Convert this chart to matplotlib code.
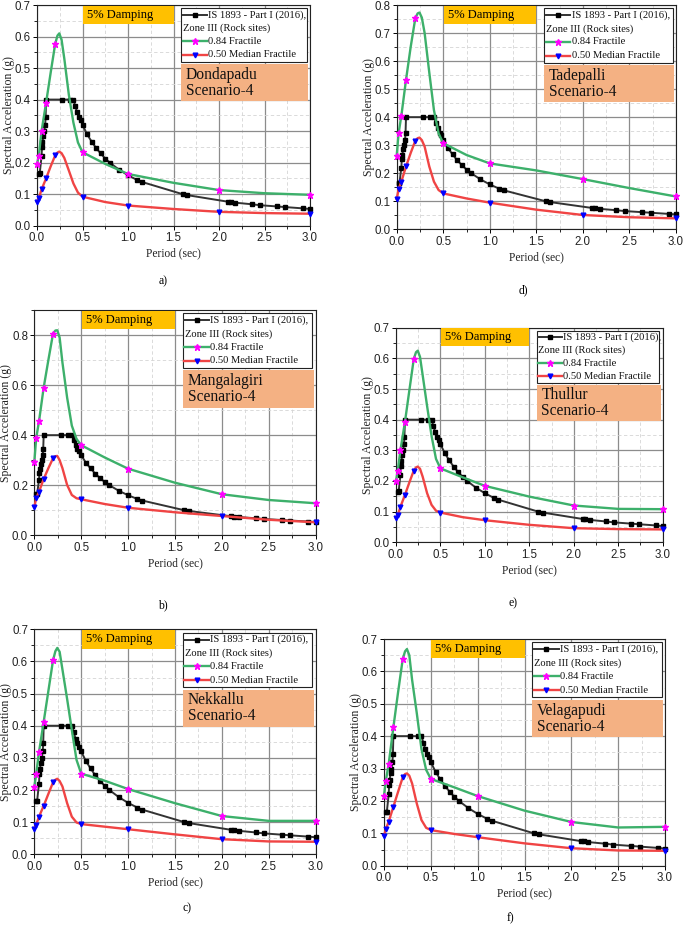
import matplotlib
matplotlib.use("Agg")
import matplotlib.pyplot as plt
from matplotlib.patches import Rectangle
from matplotlib.ticker import MultipleLocator, FormatStrFormatter
from matplotlib.lines import Line2D

# ---------------- data ----------------
# IS 1893 - Part I (2016), Zone III (Rock sites) -- same in every panel
is_period = [0.02, 0.03, 0.05, 0.055, 0.06, 0.07, 0.08, 0.09, 0.095, 0.1, 0.28, 0.36, 0.4,
             0.42, 0.44, 0.46, 0.48, 0.5, 0.55, 0.6, 0.65, 0.7, 0.75, 0.8, 0.9, 1.0, 1.1,
             1.15, 1.6, 1.65, 2.1, 2.13, 2.18, 2.36, 2.45, 2.64, 2.73, 2.92, 3.0]
is_sa = [0.165, 0.166, 0.22, 0.25, 0.265, 0.285, 0.30, 0.32, 0.345, 0.40, 0.40, 0.40, 0.40,
         0.38, 0.36, 0.345, 0.335, 0.32, 0.29, 0.267, 0.246, 0.229, 0.213, 0.20, 0.178, 0.16,
         0.145, 0.139, 0.10, 0.097, 0.076, 0.075, 0.073, 0.068, 0.065, 0.061, 0.059, 0.055, 0.053]

# Fractile spectra; markers at the computed periods
period = [0, 0.02, 0.05, 0.1, 0.15, 0.2, 0.225, 0.245, 0.27, 0.3, 0.35, 0.4, 0.45, 0.5,
          0.75, 1.0, 1.5, 2.0, 2.5, 3.0]
marker_idx = [0, 1, 2, 3, 5, 13, 15, 17, 19]

sites = ["Dondapadu", "Tadepalli", "Mangalagiri", "Thullur", "Nekkallu", "Velagapudi"]
captions = ["a)", "d)", "b)", "e)", "c)", "f)"]

frac84_dondapadu = [0.195, 0.222, 0.30, 0.39, 0.485, 0.577, 0.603, 0.61, 0.59, 0.53, 0.415, 0.327,
                    0.264, 0.233, 0.196, 0.164, 0.136, 0.113, 0.103, 0.098]
frac50_dondapadu = [0.076, 0.087, 0.115, 0.150, 0.188, 0.223, 0.232, 0.235, 0.230, 0.215, 0.175,
                    0.134, 0.105, 0.092, 0.075, 0.064, 0.053, 0.044, 0.040, 0.038]

frac84_tadepalli = [0.263, 0.342, 0.405, 0.533, 0.65, 0.753, 0.77, 0.773, 0.755, 0.70, 0.559, 0.425,
                    0.342, 0.307, 0.265, 0.235, 0.21, 0.179, 0.147, 0.117]
frac50_tadepalli = [0.108, 0.143, 0.170, 0.224, 0.272, 0.316, 0.325, 0.327, 0.318, 0.295, 0.224,
                    0.170, 0.140, 0.128, 0.11, 0.095, 0.07, 0.051, 0.043, 0.039]

frac84_mangalagiri = [0.292, 0.387, 0.455, 0.59, 0.70, 0.806, 0.818, 0.819, 0.79, 0.69, 0.55, 0.438,
                      0.385, 0.36, 0.311, 0.266, 0.21, 0.164, 0.141, 0.128]
frac50_mangalagiri = [0.113, 0.148, 0.174, 0.225, 0.268, 0.308, 0.316, 0.317, 0.300, 0.268, 0.201,
                      0.161, 0.148, 0.144, 0.125, 0.110, 0.092, 0.077, 0.062, 0.052]

frac84_thullur = [0.20, 0.234, 0.301, 0.391, 0.495, 0.598, 0.62, 0.625, 0.605, 0.545, 0.444, 0.347,
                  0.272, 0.241, 0.212, 0.184, 0.149, 0.12, 0.109, 0.108]
frac50_thullur = [0.078, 0.089, 0.116, 0.154, 0.195, 0.234, 0.244, 0.247, 0.24, 0.214, 0.16, 0.122,
                  0.103, 0.097, 0.082, 0.072, 0.057, 0.046, 0.043, 0.042]

frac84_nekkallu = [0.209, 0.249, 0.318, 0.412, 0.508, 0.604, 0.632, 0.642, 0.63, 0.575, 0.483, 0.387,
                   0.294, 0.251, 0.229, 0.203, 0.159, 0.119, 0.104, 0.104]
frac50_nekkallu = [0.079, 0.092, 0.117, 0.151, 0.188, 0.224, 0.232, 0.235, 0.228, 0.211, 0.159,
                   0.117, 0.099, 0.094, 0.086, 0.078, 0.062, 0.047, 0.040, 0.039]

frac84_velagapudi = [0.216, 0.263, 0.314, 0.427, 0.535, 0.638, 0.662, 0.669, 0.65, 0.574, 0.471, 0.36,
                     0.296, 0.268, 0.242, 0.215, 0.17, 0.135, 0.118, 0.120]
frac50_velagapudi = [0.093, 0.113, 0.136, 0.182, 0.228, 0.273, 0.283, 0.285, 0.278, 0.254, 0.192,
                     0.141, 0.117, 0.110, 0.098, 0.088, 0.069, 0.054, 0.047, 0.046]

frac84 = [frac84_dondapadu, frac84_tadepalli, frac84_mangalagiri,
          frac84_thullur, frac84_nekkallu, frac84_velagapudi]
frac50 = [frac50_dondapadu, frac50_tadepalli, frac50_mangalagiri,
          frac50_thullur, frac50_nekkallu, frac50_velagapudi]

y_max = [0.7, 0.8, 0.9, 0.7, 0.7, 0.7]
y_major = [0.1, 0.1, 0.2, 0.1, 0.1, 0.1]

# ---------------- layout (pixels) ----------------
W, H = 685, 925
# left, right, top, bottom of each plot area
boxes = [(37, 310, 5, 225.7),
         (396.7, 676, 5, 229.3),
         (34.3, 315.7, 310, 535.3),
         (396, 662.7, 327.7, 542.3),
         (34.3, 315.7, 629.3, 854.3),
         (384, 665, 639, 865.7)]
caption_pos = [(163, 281), (523, 290), (163, 605), (513, 603), (187, 908), (510, 918)]

SERIF = "Liberation Serif"
SANS = "Liberation Sans"
GREEN = "#3DB06B"
RED = "#F04444"
BLACK = "#333333"

fig = plt.figure(figsize=(W / 100, H / 100), dpi=100)

for i in range(6):
    l, r, t, b = boxes[i]
    w_px, h_px = r - l, b - t
    ax = fig.add_axes([l / W, 1 - b / H, w_px / W, h_px / H])
    ax.set_xlim(0, 3.0)
    ax.set_ylim(0, y_max[i])
    ax.xaxis.set_major_locator(MultipleLocator(0.5))
    ax.xaxis.set_minor_locator(MultipleLocator(0.25))
    ax.yaxis.set_major_locator(MultipleLocator(y_major[i]))
    ax.yaxis.set_minor_locator(MultipleLocator(y_major[i] / 2))
    ax.xaxis.set_major_formatter(FormatStrFormatter("%.1f"))
    ax.yaxis.set_major_formatter(FormatStrFormatter("%.1f"))
    ax.grid(which="major", color="#8c8c8c", lw=0.9, ls="-", zorder=0)
    ax.grid(which="minor", color="#d4d4d4", lw=0.6, ls=(0, (4, 3)), zorder=0)
    ax.set_axisbelow(True)
    ax.tick_params(which="major", direction="out", length=3, width=0.7, labelsize=8.3,
                   pad=1.5, labelcolor="#222222")
    ax.tick_params(which="minor", direction="out", length=2, width=0.6)
    for lab in ax.get_xticklabels() + ax.get_yticklabels():
        lab.set_fontfamily(SANS)
    for sp in ax.spines.values():
        sp.set_color("#222222")
        sp.set_linewidth(0.8)

    ax.set_xlabel("Period (sec)", fontfamily=SERIF, fontsize=8.3, color="#222222")
    ax.xaxis.set_label_coords(0.5, -27.5 / h_px)
    ax.xaxis.label.set_va("center")
    ax.set_ylabel("Spectral Acceleration (g)", fontfamily=SERIF, fontsize=8.5, color="#222222")
    ax.yaxis.set_label_coords(-22 / w_px, 0.5)

    # curves
    ax.plot(is_period, is_sa, color=BLACK, lw=1.4, marker="s", ms=2.8, mfc="black",
            mec="black", zorder=4, clip_on=False)
    ax.plot(period, frac84[i], color=GREEN, lw=1.7, marker="*", ms=4.8, mfc="#FF00FF",
            mec="#FF00FF", markevery=marker_idx, zorder=5, clip_on=False)
    ax.plot(period, frac50[i], color=RED, lw=1.7, marker="v", ms=3.4, mfc="#0000FF",
            mec="#0000FF", markevery=marker_idx, zorder=5, clip_on=False)

    # 5% Damping box
    ax.add_patch(Rectangle((0.168, 0.914), 0.332, 0.083, transform=ax.transAxes,
                           facecolor="#FFC000", edgecolor="none", zorder=6, clip_on=False))
    ax.text(0.183, 0.955, "5% Damping", transform=ax.transAxes, fontfamily=SERIF,
            fontsize=9, va="center", ha="left", zorder=7)

    # legend box (drawn manually to reproduce the wrapped first entry)
    lx0, lx1, ly0, ly1 = 0.528, 0.988, 0.742, 0.985
    ax.add_patch(Rectangle((lx0, ly0), lx1 - lx0, ly1 - ly0, transform=ax.transAxes,
                           facecolor="white", edgecolor="#222222", lw=0.8, zorder=6,
                           clip_on=False))
    hh = ly1 - ly0
    rows = [ly1 - 0.126 * hh, ly1 - 0.377 * hh, ly1 - 0.617 * hh, ly1 - 0.868 * hh]
    hx0, hx1, tx = lx0 + 0.005, lx0 + 0.094, lx0 + 0.098
    handles = [(BLACK, "s", "black", 2.8, 1.4), (GREEN, "*", "#FF00FF", 4.8, 1.7),
               (RED, "v", "#0000FF", 3.4, 1.7)]
    labels = ["IS 1893 - Part I (2016),", "0.84 Fractile", "0.50 Median Fractile"]
    for (c, m, mc, ms, lw), lab, ry in zip(handles, labels, [rows[0], rows[2], rows[3]]):
        ax.add_line(Line2D([hx0, hx1], [ry, ry], transform=ax.transAxes, color=c, lw=lw,
                           zorder=7, clip_on=False))
        ax.add_line(Line2D([(hx0 + hx1) / 2], [ry], transform=ax.transAxes, marker=m, ms=ms,
                           mfc=mc, mec=mc, ls="none", zorder=8, clip_on=False))
        ax.text(tx, ry, lab, transform=ax.transAxes, fontfamily=SERIF, fontsize=7.6,
                va="center", ha="left", zorder=8, color="#111111")
    ax.text(lx0 + 0.006, rows[1], "Zone III (Rock sites)", transform=ax.transAxes,
            fontfamily=SERIF, fontsize=7.6, va="center", ha="left", zorder=8, color="#111111")

    # site box
    ax.add_patch(Rectangle((0.527, 0.567), 0.466, 0.165, transform=ax.transAxes,
                           facecolor="#F4B183", edgecolor="none", zorder=6, clip_on=False))
    ax.text(0.545, 0.648, sites[i] + "\nScenario-4", transform=ax.transAxes,
            fontfamily=SERIF, fontsize=11.2, va="center", ha="left", zorder=7,
            linespacing=1.0, color="#111111")

    cx, cy = caption_pos[i]
    fig.text(cx / W, 1 - cy / H, captions[i], fontfamily=SERIF, fontsize=8.5,
             ha="center", va="center")

fig.savefig("out.png", dpi=100)
